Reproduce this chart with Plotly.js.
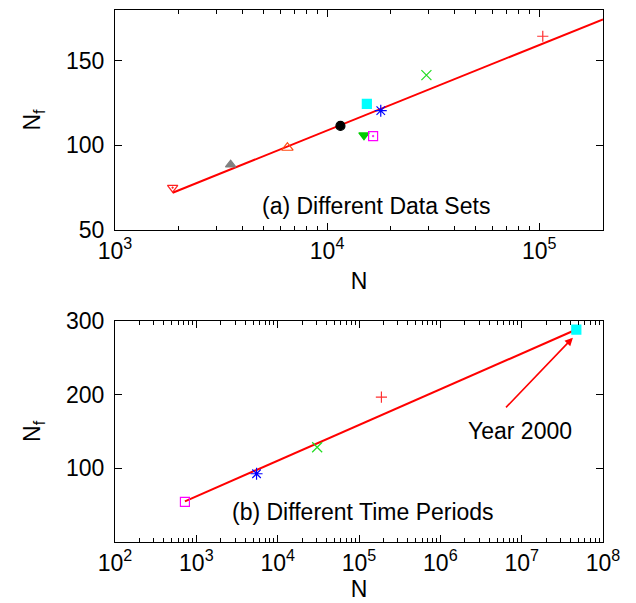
<!DOCTYPE html>
<html>
<head>
<meta charset="utf-8">
<script src="https://cdn.plot.ly/plotly-3.0.1.min.js"></script>
<style>html,body{margin:0;padding:0;background:#fff;}#chart{width:636px;height:603px;}</style>
</head>
<body>
<div id="chart"></div>
<script>
// Panel (a): different data sets
var setsN  = [1870, 3510, 6500, 11560, 15400, 14930, 16480, 17910, 29400, 104000];
var setsNf = [75, 88.6, 98.6, 111.5, 124.5, 106, 105.5, 120.5, 141.5, 164.5];
var fitAN  = [1870, 200000];
var fitANf = [72, 174.5];

// Panel (b): different time periods
var periodsN  = [724, 5500, 30600, 188700, 47000000];
var periodsNf = [54.5, 92.5, 128.5, 196.5, 288];
var fitBN  = [724, 47000000];
var fitBNf = [55, 288];

var decadesA = [3, 4, 5];
var decadesB = [2, 3, 4, 5, 6, 7, 8];

var styleA = [
  {symbol: 'triangle-down-open-dot', color: '#ff2020', size: 9},
  {symbol: 'triangle-up', color: '#808080', size: 9},
  {symbol: 'triangle-up-open', color: '#ff4a10', size: 10},
  {symbol: 'circle', color: '#000000', size: 9},
  {symbol: 'square', color: '#00ffff', size: 9},
  {symbol: 'triangle-down', color: '#00cc00', size: 9},
  {symbol: 'square-open-dot', color: '#ff00ff', size: 9},
  {symbol: 'asterisk-open', color: '#0000ff', size: 10},
  {symbol: 'x-thin-open', color: '#22dd22', size: 10},
  {symbol: 'cross-thin-open', color: '#ff3030', size: 8}
];
var styleB = [
  {symbol: 'square-open', color: '#ff00ff', size: 9},
  {symbol: 'asterisk-open', color: '#0000ff', size: 10},
  {symbol: 'x-thin-open', color: '#22dd22', size: 10},
  {symbol: 'cross-thin-open', color: '#ff3030', size: 8},
  {symbol: 'square', color: '#00ffff', size: 9}
];

var traces = [];
traces.push({x: fitAN, y: fitANf, mode: 'lines', line: {color: '#ff0000', width: 2}, xaxis: 'x', yaxis: 'y', hoverinfo: 'skip'});
setsN.forEach(function (n, i) {
  var s = styleA[i];
  traces.push({x: [n], y: [setsNf[i]], mode: 'markers', xaxis: 'x', yaxis: 'y',
    marker: {symbol: s.symbol, color: s.color, size: s.size, line: {color: s.color, width: 1.2}}});
});
traces.push({x: fitBN, y: fitBNf, mode: 'lines', line: {color: '#ff0000', width: 2}, xaxis: 'x2', yaxis: 'y2', hoverinfo: 'skip'});
periodsN.forEach(function (n, i) {
  var s = styleB[i];
  traces.push({x: [n], y: [periodsNf[i]], mode: 'markers', xaxis: 'x2', yaxis: 'y2',
    marker: {symbol: s.symbol, color: s.color, size: s.size, line: {color: s.color, width: 1.2}}});
});

var font = {family: 'Liberation Sans, Arial, sans-serif', size: 23, color: '#000'};
function powLabels(d) { return d.map(function (e) { return '10<sup>' + e + '</sup>'; }); }
function powVals(d) { return d.map(function (e) { return Math.pow(10, e); }); }

var axCommon = {showline: true, mirror: 'ticks', linecolor: '#000', linewidth: 1, ticks: 'inside',
  ticklen: 7, tickcolor: '#000', showgrid: false, zeroline: false, tickfont: font};

var layout = {
  width: 636, height: 603, showlegend: false,
  paper_bgcolor: '#fff', plot_bgcolor: '#fff',
  margin: {l: 115, r: 33, t: 10, b: 61},
  font: font,
  xaxis: Object.assign({}, axCommon, {type: 'log', range: [3, Math.log10(200000)], anchor: 'y',
    tickvals: powVals(decadesA), ticktext: powLabels(decadesA),
    minor: {ticks: 'inside', ticklen: 4, tickcolor: '#000', dtick: 'D1', showgrid: false},
    title: {text: 'N', font: font, standoff: 10}}),
  yaxis: Object.assign({}, axCommon, {domain: [0.5865, 1], range: [50, 180], tickvals: [50, 100, 150], anchor: 'x',
    ticklabelstandoff: 5,
    title: {text: 'N<sub>f</sub>', font: font, standoff: 18}}),
  xaxis2: Object.assign({}, axCommon, {type: 'log', range: [2, 8], anchor: 'y2',
    tickvals: powVals(decadesB), ticktext: powLabels(decadesB),
    minor: {ticks: 'inside', ticklen: 4, tickcolor: '#000', dtick: 'D1', showgrid: false},
    title: {text: 'N', font: font, standoff: 6}}),
  yaxis2: Object.assign({}, axCommon, {domain: [0, 0.416], range: [0, 300], tickvals: [100, 200, 300], anchor: 'x2',
    ticklabelstandoff: 5,
    title: {text: 'N<sub>f</sub>', font: font, standoff: 18}}),
  annotations: [
    {xref: 'x', yref: 'y', x: Math.log10(17100), y: 64, text: '(a) Different Data Sets', showarrow: false, font: font},
    {xref: 'x2', yref: 'y2', x: 5.05, y: 40, text: '(b) Different Time Periods', showarrow: false, font: font},
    {xref: 'x2', yref: 'y2', x: 6.98, y: 151, text: 'Year 2000', showarrow: false, font: font},
    {xref: 'x2', yref: 'y2', axref: 'x2', ayref: 'y2', x: 7.63, y: 277, ax: 6.79, ay: 180.5, text: '',
      showarrow: true, arrowhead: 2, arrowsize: 1, arrowwidth: 1.6, arrowcolor: '#ff0000', standoff: 0}
  ]
};

Plotly.newPlot('chart', traces, layout, {staticPlot: true, displayModeBar: false});
</script>
</body>
</html>
